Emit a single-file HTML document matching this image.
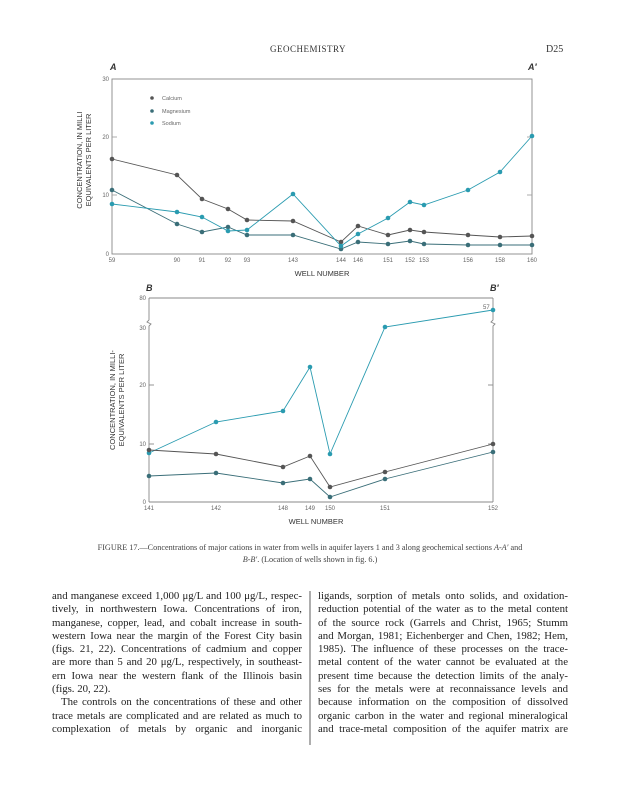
<!DOCTYPE html>
<html><head><meta charset="utf-8"><style>
body{margin:0;background:#fff;width:618px;height:800px;position:relative;overflow:hidden;font-family:"Liberation Serif",serif;color:#222}
.col{position:absolute;top:590px;width:250px;font-size:10.8px;line-height:13.3px}
.col div{text-align:justify;text-align-last:justify;white-space:nowrap}
.col div.l{text-align-last:left}
</style></head><body>
<svg width="618" height="800" style="position:absolute;left:0;top:0" font-family="Liberation Sans, sans-serif">
<text x="308" y="52" font-family="Liberation Serif, serif" font-size="9" text-anchor="middle" fill="#333" letter-spacing="0.5">GEOCHEMISTRY</text>
<text x="546" y="52" font-family="Liberation Serif, serif" font-size="10" fill="#333">D25</text>
<text x="110" y="70" font-size="9" font-weight="bold" font-style="italic" fill="#333">A</text>
<text x="528" y="70" font-size="9" font-weight="bold" font-style="italic" fill="#333">A′</text>
<rect x="112" y="79" width="420" height="175" fill="none" stroke="#888" stroke-width="0.9"/>
<g stroke="#999" stroke-width="0.8"><line x1="112" y1="137" x2="117" y2="137"/><line x1="112" y1="195" x2="117" y2="195"/><line x1="527" y1="137" x2="532" y2="137"/><line x1="527" y1="195" x2="532" y2="195"/></g>
<g font-size="6" fill="#666" text-anchor="end"><text x="109" y="81">30</text><text x="109" y="139">20</text><text x="109" y="197">10</text><text x="109" y="256">0</text></g>
<g font-size="6" fill="#666" text-anchor="middle"><text x="112" y="262">59</text><text x="177" y="262">90</text><text x="202" y="262">91</text><text x="228" y="262">92</text><text x="247" y="262">93</text><text x="293" y="262">143</text><text x="341" y="262">144</text><text x="358" y="262">146</text><text x="388" y="262">151</text><text x="410" y="262">152</text><text x="424" y="262">153</text><text x="468" y="262">156</text><text x="500" y="262">158</text><text x="532" y="262">160</text></g>
<text x="322" y="276" font-size="7.5" text-anchor="middle" fill="#333">WELL NUMBER</text>
<text transform="translate(82,160) rotate(-90)" font-size="7.5" text-anchor="middle" fill="#333">CONCENTRATION, IN MILLI</text>
<text transform="translate(91,160) rotate(-90)" font-size="7.5" text-anchor="middle" fill="#333">EQUIVALENTS PER LITER</text>
<g font-size="5.5" fill="#666"><circle cx="152" cy="98" r="1.8" fill="#555"/><text x="162" y="100">Calcium</text><circle cx="152" cy="111" r="1.8" fill="#3a6e78"/><text x="162" y="113">Magnesium</text><circle cx="152" cy="123" r="1.8" fill="#2a9bb0"/><text x="162" y="125">Sodium</text></g>
<g fill="none" stroke-width="0.9">
<polyline stroke="#555" points="112,159 177,175 202,199 228,209 247,220 293,221 341,242 358,226 388,235 410,230 424,232 468,235 500,237 532,236"/>
<polyline stroke="#3a6e78" points="112,190 177,224 202,232 228,227 247,235 293,235 341,249 358,242 388,244 410,241 424,244 468,245 500,245 532,245"/>
<polyline stroke="#2a9bb0" points="112,204 177,212 202,217 228,231 247,230 293,194 341,246 358,234 388,218 410,202 424,205 468,190 500,172 532,136"/>
</g>
<g fill="#555"><circle cx="112" cy="159" r="2.3"/><circle cx="177" cy="175" r="2.3"/><circle cx="202" cy="199" r="2.3"/><circle cx="228" cy="209" r="2.3"/><circle cx="247" cy="220" r="2.3"/><circle cx="293" cy="221" r="2.3"/><circle cx="341" cy="242" r="2.3"/><circle cx="358" cy="226" r="2.3"/><circle cx="388" cy="235" r="2.3"/><circle cx="410" cy="230" r="2.3"/><circle cx="424" cy="232" r="2.3"/><circle cx="468" cy="235" r="2.3"/><circle cx="500" cy="237" r="2.3"/><circle cx="532" cy="236" r="2.3"/></g>
<g fill="#3a6e78"><circle cx="112" cy="190" r="2.3"/><circle cx="177" cy="224" r="2.3"/><circle cx="202" cy="232" r="2.3"/><circle cx="228" cy="227" r="2.3"/><circle cx="247" cy="235" r="2.3"/><circle cx="293" cy="235" r="2.3"/><circle cx="341" cy="249" r="2.3"/><circle cx="358" cy="242" r="2.3"/><circle cx="388" cy="244" r="2.3"/><circle cx="410" cy="241" r="2.3"/><circle cx="424" cy="244" r="2.3"/><circle cx="468" cy="245" r="2.3"/><circle cx="500" cy="245" r="2.3"/><circle cx="532" cy="245" r="2.3"/></g>
<g fill="#2a9bb0"><circle cx="112" cy="204" r="2.3"/><circle cx="177" cy="212" r="2.3"/><circle cx="202" cy="217" r="2.3"/><circle cx="228" cy="231" r="2.3"/><circle cx="247" cy="230" r="2.3"/><circle cx="293" cy="194" r="2.3"/><circle cx="341" cy="246" r="2.3"/><circle cx="358" cy="234" r="2.3"/><circle cx="388" cy="218" r="2.3"/><circle cx="410" cy="202" r="2.3"/><circle cx="424" cy="205" r="2.3"/><circle cx="468" cy="190" r="2.3"/><circle cx="500" cy="172" r="2.3"/><circle cx="532" cy="136" r="2.3"/></g>
<text x="146" y="291" font-size="9" font-weight="bold" font-style="italic" fill="#333">B</text>
<text x="490" y="291" font-size="9" font-weight="bold" font-style="italic" fill="#333">B′</text>
<g stroke="#888" stroke-width="0.9" fill="none"><line x1="149" y1="298" x2="493" y2="298"/><line x1="149" y1="502" x2="493" y2="502"/>
<polyline points="149,298 149,320 147,322 151,324 149,326 149,502"/><polyline points="493,298 493,320 491,322 495,324 493,326 493,502"/>
<line x1="149" y1="385" x2="154" y2="385"/><line x1="149" y1="444" x2="154" y2="444"/><line x1="488" y1="385" x2="493" y2="385"/><line x1="488" y1="444" x2="493" y2="444"/></g>
<g font-size="6" fill="#666" text-anchor="end"><text x="146" y="300">80</text><text x="146" y="330">30</text><text x="146" y="387">20</text><text x="146" y="446">10</text><text x="146" y="504">0</text></g>
<g font-size="6" fill="#666" text-anchor="middle"><text x="149" y="510">141</text><text x="216" y="510">142</text><text x="283" y="510">148</text><text x="310" y="510">149</text><text x="330" y="510">150</text><text x="385" y="510">151</text><text x="493" y="510">152</text></g>
<text x="316" y="524" font-size="7.5" text-anchor="middle" fill="#333">WELL NUMBER</text>
<text transform="translate(115,400) rotate(-90)" font-size="7.5" text-anchor="middle" fill="#333">CONCENTRATION, IN MILLI-</text>
<text transform="translate(124,400) rotate(-90)" font-size="7.5" text-anchor="middle" fill="#333">EQUIVALENTS PER LITER</text>
<text x="483" y="309" font-size="6" fill="#666">57</text>
<g fill="none" stroke-width="0.9">
<polyline stroke="#2a9bb0" points="149,453 216,422 283,411 310,367 330,454 385,327 493,310"/>
<polyline stroke="#555" points="149,450 216,454 283,467 310,456 330,487 385,472 493,444"/>
<polyline stroke="#3a6e78" points="149,476 216,473 283,483 310,479 330,497 385,479 493,452"/>
</g>
<g fill="#2a9bb0"><circle cx="149" cy="453" r="2.3"/><circle cx="216" cy="422" r="2.3"/><circle cx="283" cy="411" r="2.3"/><circle cx="310" cy="367" r="2.3"/><circle cx="330" cy="454" r="2.3"/><circle cx="385" cy="327" r="2.3"/><circle cx="493" cy="310" r="2.3"/></g>
<g fill="#555"><circle cx="149" cy="450" r="2.3"/><circle cx="216" cy="454" r="2.3"/><circle cx="283" cy="467" r="2.3"/><circle cx="310" cy="456" r="2.3"/><circle cx="330" cy="487" r="2.3"/><circle cx="385" cy="472" r="2.3"/><circle cx="493" cy="444" r="2.3"/></g>
<g fill="#3a6e78"><circle cx="149" cy="476" r="2.3"/><circle cx="216" cy="473" r="2.3"/><circle cx="283" cy="483" r="2.3"/><circle cx="310" cy="479" r="2.3"/><circle cx="330" cy="497" r="2.3"/><circle cx="385" cy="479" r="2.3"/><circle cx="493" cy="452" r="2.3"/></g>
<g font-family="Liberation Serif, serif" font-size="8.2" fill="#444" text-anchor="middle"><text x="310" y="550">FIGURE 17.—Concentrations of major cations in water from wells in aquifer layers 1 and 3 along geochemical sections <tspan font-style="italic">A-A′</tspan> and</text><text x="310" y="562"><tspan font-style="italic">B-B′</tspan>. (Location of wells shown in fig. 6.)</text></g>
<line x1="310" y1="591" x2="310" y2="745" stroke="#333" stroke-width="0.8"/>
</svg>
<div class="col" style="left:52px">
<div>and manganese exceed 1,000 μg/L and 100 μg/L, respec-</div>
<div>tively, in northwestern Iowa. Concentrations of iron,</div>
<div>manganese, copper, lead, and cobalt increase in south-</div>
<div>western Iowa near the margin of the Forest City basin</div>
<div>(figs. 21, 22). Concentrations of cadmium and copper</div>
<div>are more than 5 and 20 μg/L, respectively, in southeast-</div>
<div>ern Iowa near the western flank of the Illinois basin</div>
<div class="l">(figs. 20, 22).</div>
<div style="padding-left:9px">The controls on the concentrations of these and other</div>
<div>trace metals are complicated and are related as much to</div>
<div>complexation of metals by organic and inorganic</div>
</div>
<div class="col" style="left:318px">
<div>ligands, sorption of metals onto solids, and oxidation-</div>
<div>reduction potential of the water as to the metal content</div>
<div>of the source rock (Garrels and Christ, 1965; Stumm</div>
<div>and Morgan, 1981; Eichenberger and Chen, 1982; Hem,</div>
<div>1985). The influence of these processes on the trace-</div>
<div>metal content of the water cannot be evaluated at the</div>
<div>present time because the detection limits of the analy-</div>
<div>ses for the metals were at reconnaissance levels and</div>
<div>because information on the composition of dissolved</div>
<div>organic carbon in the water and regional mineralogical</div>
<div>and trace-metal composition of the aquifer matrix are</div>
</div>
</body></html>
